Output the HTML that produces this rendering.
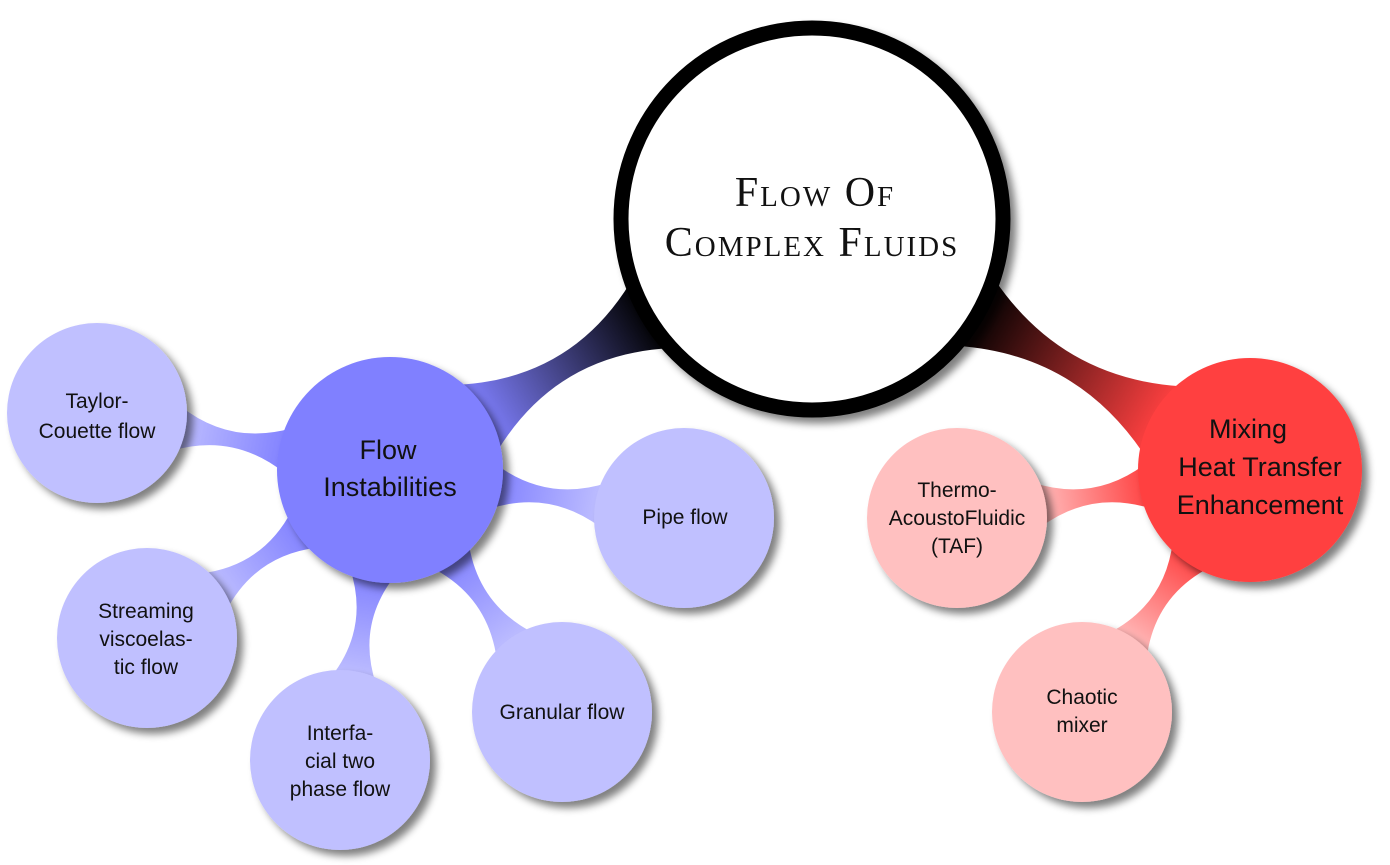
<!DOCTYPE html>
<html><head><meta charset="utf-8"><style>
html,body{margin:0;padding:0;background:#fff;}
svg{display:block}
.s{font-family:"Liberation Sans","DejaVu Sans",sans-serif;fill:#111;text-anchor:middle}
.c{font-family:"Liberation Serif",serif;fill:#111;text-anchor:middle;font-variant:small-caps;letter-spacing:2px}
</style></head><body>
<svg id="g" width="1390" height="865" viewBox="0 0 1390 865" xmlns="http://www.w3.org/2000/svg">
<defs>
<filter id="sh" x="-30%" y="-30%" width="160%" height="160%">
<feGaussianBlur in="SourceAlpha" stdDeviation="4"/>
<feOffset dx="6" dy="6"/>
<feComponentTransfer><feFuncA type="linear" slope="0.5"/></feComponentTransfer>
<feMerge><feMergeNode/><feMergeNode in="SourceGraphic"/></feMerge>
</filter>
</defs>
<g id="conns"></g>
<g id="nodes"></g>
<g id="texts">
<text class="c" x="815" y="206" font-size="42">Flow Of</text>
<text class="c" x="812" y="256" font-size="42">Complex Fluids</text>
<text class="s" x="388" y="459" font-size="27">Flow</text>
<text class="s" x="390" y="496" font-size="27">Instabilities</text>
<text class="s" x="1248" y="438" font-size="27">Mixing</text>
<text class="s" x="1260" y="476" font-size="27">Heat Transfer</text>
<text class="s" x="1260" y="514" font-size="27">Enhancement</text>
<text class="s" x="97" y="408" font-size="21">Taylor-</text>
<text class="s" x="97" y="438" font-size="21">Couette flow</text>
<text class="s" x="146" y="618" font-size="21">Streaming</text>
<text class="s" x="146" y="646" font-size="21">viscoelas-</text>
<text class="s" x="146" y="674" font-size="21">tic flow</text>
<text class="s" x="340" y="740" font-size="21">Interfa-</text>
<text class="s" x="340" y="768" font-size="21">cial two</text>
<text class="s" x="340" y="796" font-size="21">phase flow</text>
<text class="s" x="562" y="719" font-size="21">Granular flow</text>
<text class="s" x="685" y="524" font-size="21">Pipe flow</text>
<text class="s" x="957" y="497" font-size="21">Thermo-</text>
<text class="s" x="957" y="525" font-size="21">AcoustoFluidic</text>
<text class="s" x="957" y="553" font-size="21">(TAF)</text>
<text class="s" x="1082" y="704" font-size="21">Chaotic</text>
<text class="s" x="1082" y="732" font-size="21">mixer</text>
</g>
</svg>
<script>
var NS="http://www.w3.org/2000/svg";
var N={
 C:[812,219,199,"#fff"],
 F:[390,470,113,"#8080ff"],
 M:[1250,470,112,"#ff4040"],
 t:[97,413,90,"#c0c0ff"],
 s:[147,638,90,"#c0c0ff"],
 i:[340,760,90,"#c0c0ff"],
 g:[562,712,90,"#c0c0ff"],
 p:[684,518,90,"#c0c0ff"],
 th:[957,518,90,"#ffc0c0"],
 ch:[1082,712,90,"#ffc0c0"]
};
var E=[["C","F",38,12],["C","M",38,12],["F","t",23,8],["F","s",23,8],["F","i",23,8],["F","g",23,8],["F","p",23,8],["M","th",23,8],["M","ch",23,8]];
var cg=document.getElementById("conns"),ng=document.getElementById("nodes"),defs=document.querySelector("defs");
E.forEach(function(e,k){
 var a=N[e[0]],b=N[e[1]];
 var dx=b[0]-a[0],dy=b[1]-a[1],L=Math.hypot(dx,dy),ux=dx/L,uy=dy/L,px=-uy,py=ux;
 var w=e[2],m=e[3],c=2*m-w;
 var ar=a[2]-10,br=b[2]-10;
 var A=[a[0]+ux*ar,a[1]+uy*ar],B=[b[0]-ux*br,b[1]-uy*br];
 var mid=[(A[0]+B[0])/2,(A[1]+B[1])/2];
 function P(pt,s,ww){return (pt[0]+px*s*ww).toFixed(1)+","+(pt[1]+py*s*ww).toFixed(1);}
 var d="M"+P(A,1,w)+" Q"+P(mid,1,c)+" "+P(B,1,w)+" L"+P(B,-1,w)+" Q"+P(mid,-1,c)+" "+P(A,-1,w)+"Z";
 var gid="lg"+k,lg=document.createElementNS(NS,"linearGradient");
 lg.setAttribute("id",gid);lg.setAttribute("gradientUnits","userSpaceOnUse");
 lg.setAttribute("x1",A[0]);lg.setAttribute("y1",A[1]);lg.setAttribute("x2",B[0]);lg.setAttribute("y2",B[1]);
 var c1=e[0]=="C"?"#000":a[3],c2=b[3];
 [[0,c1],[1,c2]].forEach(function(s){var st=document.createElementNS(NS,"stop");st.setAttribute("offset",s[0]);st.setAttribute("stop-color",s[1]);lg.appendChild(st);});
 defs.appendChild(lg);
 var p=document.createElementNS(NS,"path");p.setAttribute("d",d);p.setAttribute("fill","url(#"+gid+")");cg.appendChild(p);
});
for(var k in N){var n=N[k],ci=document.createElementNS(NS,"circle");
 ci.setAttribute("cx",n[0]);ci.setAttribute("cy",n[1]);
 if(k=="C"){ci.setAttribute("r",n[2]-8);ci.setAttribute("fill","#fff");ci.setAttribute("stroke","#000");ci.setAttribute("stroke-width","15");}
 else{ci.setAttribute("r",n[2]);ci.setAttribute("fill",n[3]);}
 ci.setAttribute("filter","url(#sh)");ng.appendChild(ci);}
</script>
</body></html>
